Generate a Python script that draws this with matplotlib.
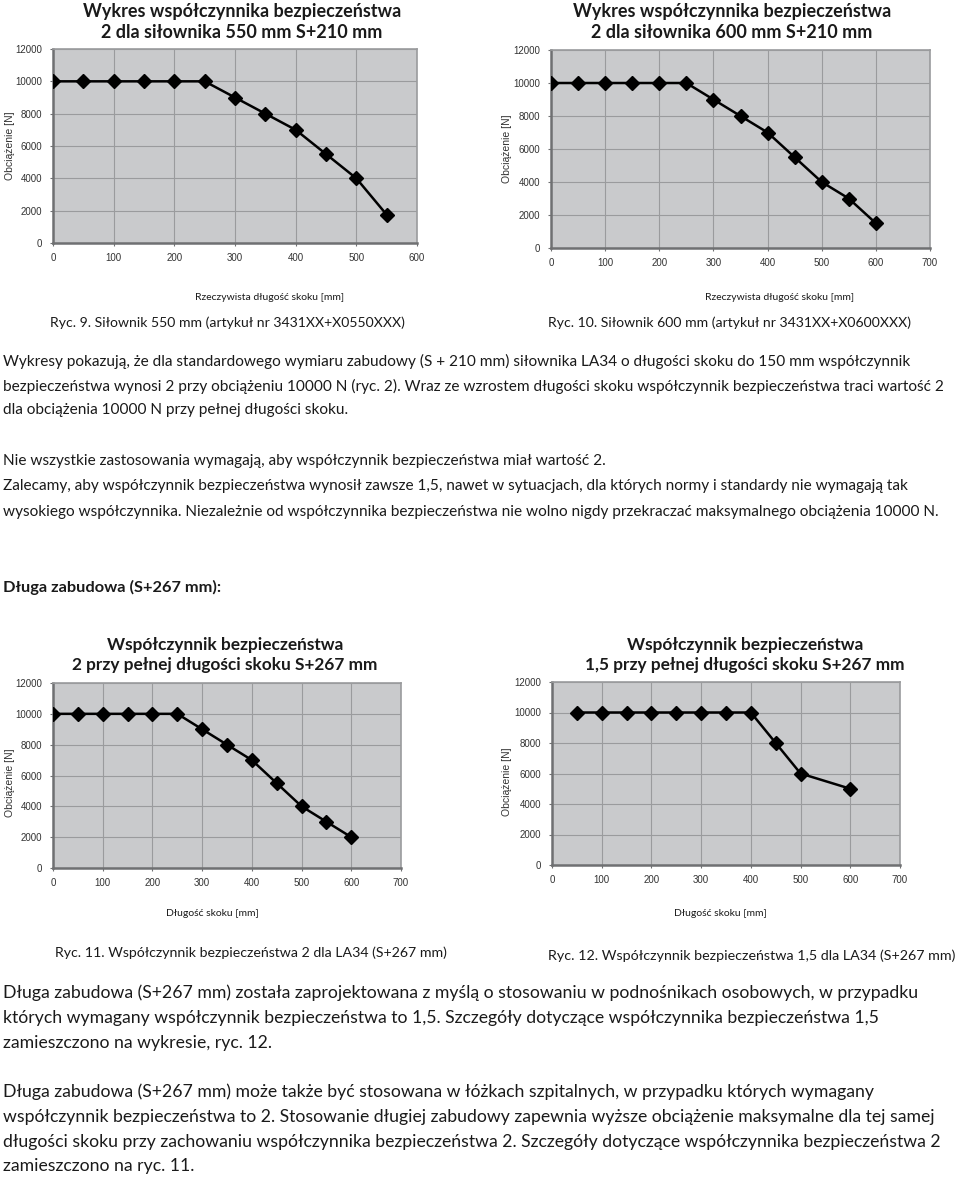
import matplotlib
matplotlib.use("Agg")
import matplotlib.pyplot as plt

# chart data (stroke length [mm] vs load [N])
x_550 = [0, 50, 100, 150, 200, 250, 300, 350, 400, 450, 500, 550]
y_550 = [10000, 10000, 10000, 10000, 10000, 10000, 9000, 8000, 7000, 5500, 4000, 1750]

x_600 = [0, 50, 100, 150, 200, 250, 300, 350, 400, 450, 500, 550, 600]
y_600 = [10000, 10000, 10000, 10000, 10000, 10000, 9000, 8000, 7000, 5500, 4000, 3000, 1500]

x_267_2 = [0, 50, 100, 150, 200, 250, 300, 350, 400, 450, 500, 550, 600]
y_267_2 = [10000, 10000, 10000, 10000, 10000, 10000, 9000, 8000, 7000, 5500, 4000, 3000, 2000]

x_267_15 = [50, 100, 150, 200, 250, 300, 350, 400, 450, 500, 600]
y_267_15 = [10000, 10000, 10000, 10000, 10000, 10000, 10000, 10000, 8000, 6000, 5000]

y_ticks = [0, 2000, 4000, 6000, 8000, 10000, 12000]

W, H = 960, 1178
TXT = "Lato"
TICK = "Liberation Sans"

fig = plt.figure(figsize=(W / 100, H / 100), dpi=100)


def box(x0, y0, x1, y1):
    return [x0 / W, 1 - y1 / H, (x1 - x0) / W, (y1 - y0) / H]


def put(x, y, s, **kw):
    kw.setdefault("family", TXT)
    kw.setdefault("color", "#1a1a1a")
    fig.text(x / W, 1 - y / H, s, **kw)


def chart(rect, xs, ys, xmax, xstep):
    ax = fig.add_axes(box(*rect))
    ax.set_facecolor("#c9cacc")
    ax.plot(xs, ys, color="black", lw=1.8, marker="D", ms=7.5, zorder=3)
    ax.set_xlim(0, xmax)
    ax.set_ylim(0, 12000)
    ax.set_xticks(range(0, xmax + 1, xstep))
    ax.set_yticks(y_ticks)
    ax.grid(True, color="#9a9b9d", lw=0.8)
    ax.set_axisbelow(True)
    for s in ["top", "right"]:
        ax.spines[s].set_color("#9a9b9d")
        ax.spines[s].set_linewidth(1.2)
    for s in ["left", "bottom"]:
        ax.spines[s].set_color("#6f7072")
        ax.spines[s].set_linewidth(1.8)
    ax.tick_params(length=2, color="#6f7072", labelsize=7, labelcolor="#333333", pad=6)
    for lab in ax.get_xticklabels() + ax.get_yticklabels():
        lab.set_family(TICK)
    ax.tick_params(axis="x", pad=5)
    return ax


chart((53, 49, 417, 243), x_550, y_550, 600, 100)
chart((551, 50, 930, 248), x_600, y_600, 700, 100)
chart((53, 683, 401, 868), x_267_2, y_267_2, 700, 100)
chart((552, 682, 900, 865), x_267_15, y_267_15, 700, 100)

# titles
put(242, 22, "Wykres współczynnika bezpieczeństwa\n2 dla siłownika 550 mm S+210 mm",
    ha="center", va="center", fontsize=13, weight="bold", linespacing=1.3)
put(732, 22, "Wykres współczynnika bezpieczeństwa\n2 dla siłownika 600 mm S+210 mm",
    ha="center", va="center", fontsize=13, weight="bold", linespacing=1.3)
put(225, 655, "Współczynnik bezpieczeństwa\n2 przy pełnej długości skoku S+267 mm",
    ha="center", va="center", fontsize=12.4, weight="bold", linespacing=1.35)
put(745, 655, "Współczynnik bezpieczeństwa\n1,5 przy pełnej długości skoku S+267 mm",
    ha="center", va="center", fontsize=12.4, weight="bold", linespacing=1.35)

# y labels
for x, y in [(10, 146), (507, 149), (10, 783), (507, 782)]:
    put(x, y, "Obciążenie [N]", ha="center", va="center", rotation=90,
        fontsize=7.5, family=TICK, color="#333333")

# x labels
put(270, 297, "Rzeczywista długość skoku [mm]", ha="center", va="center", fontsize=7.5)
put(780, 297, "Rzeczywista długość skoku [mm]", ha="center", va="center", fontsize=7.5)
put(212, 913, "Długość skoku [mm]", ha="center", va="center", fontsize=7.5)
put(720, 913, "Długość skoku [mm]", ha="center", va="center", fontsize=7.5)

# captions
put(50, 323, "Ryc. 9. Siłownik 550 mm (artykuł nr 3431XX+X0550XXX)", va="center", fontsize=10.1)
put(548, 323, "Ryc. 10. Siłownik 600 mm (artykuł nr 3431XX+X0600XXX)", va="center", fontsize=10.1)
put(55, 953, "Ryc. 11. Współczynnik bezpieczeństwa 2 dla LA34 (S+267 mm)", va="center", fontsize=10.2)
put(548, 956, "Ryc. 12. Współczynnik bezpieczeństwa 1,5 dla LA34 (S+267 mm)", va="center", fontsize=10.3)

body_top = [
    (361, "Wykresy pokazują, że dla standardowego wymiaru zabudowy (S + 210 mm) siłownika LA34 o długości skoku do 150 mm współczynnik"),
    (386, "bezpieczeństwa wynosi 2 przy obciążeniu 10000 N (ryc. 2). Wraz ze wzrostem długości skoku współczynnik bezpieczeństwa traci wartość 2"),
    (410, "dla obciążenia 10000 N przy pełnej długości skoku."),
    (461, "Nie wszystkie zastosowania wymagają, aby współczynnik bezpieczeństwa miał wartość 2."),
    (486, "Zalecamy, aby współczynnik bezpieczeństwa wynosił zawsze 1,5, nawet w sytuacjach, dla których normy i standardy nie wymagają tak"),
    (512, "wysokiego współczynnika. Niezależnie od współczynnika bezpieczeństwa nie wolno nigdy przekraczać maksymalnego obciążenia 10000 N."),
]
for y, s in body_top:
    put(3, y, s, va="center", fontsize=11.05)

body_bottom = [
    (993, "Długa zabudowa (S+267 mm) została zaprojektowana z myślą o stosowaniu w podnośnikach osobowych, w przypadku"),
    (1018, "których wymagany współczynnik bezpieczeństwa to 1,5. Szczegóły dotyczące współczynnika bezpieczeństwa 1,5"),
    (1043, "zamieszczono na wykresie, ryc. 12."),
    (1092, "Długa zabudowa (S+267 mm) może także być stosowana w łóżkach szpitalnych, w przypadku których wymagany"),
    (1117, "współczynnik bezpieczeństwa to 2. Stosowanie długiej zabudowy zapewnia wyższe obciążenie maksymalne dla tej samej"),
    (1142, "długości skoku przy zachowaniu współczynnika bezpieczeństwa 2. Szczegóły dotyczące współczynnika bezpieczeństwa 2"),
    (1166, "zamieszczono na ryc. 11."),
]
for y, s in body_bottom:
    put(3, y, s, va="center", fontsize=12.7)

put(3, 587, "Długa zabudowa (S+267 mm):", va="center", fontsize=11.8, weight="bold")

fig.savefig("out.png", dpi=100)
